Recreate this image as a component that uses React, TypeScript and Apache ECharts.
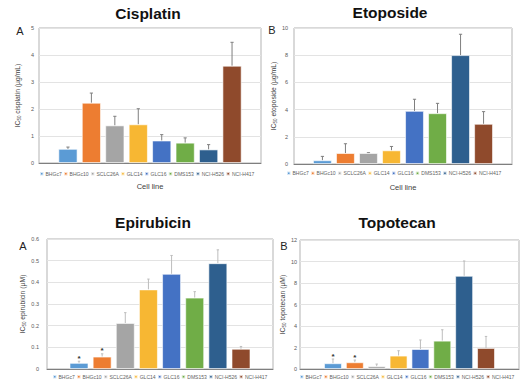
import React, { useEffect, useRef } from 'react';
import * as echarts from 'echarts';

const cellLines = ['BHGc7', 'BHGc10', 'SCLC26A', 'GLC14', 'GLC16', 'DMS153', 'NCI-H526', 'NCI-H417'];
const barColors = ['#5B9BD5', '#ED7D31', '#A5A5A5', '#F7B733', '#4472C4', '#70AD47', '#2E5F8E', '#8F4A2C'];

const cisplatinMean = [0.52, 2.23, 1.39, 1.43, 0.83, 0.75, 0.5, 3.6];
const cisplatinSD = [0.07, 0.36, 0.34, 0.58, 0.22, 0.18, 0.18, 0.87];

const etoposideMean = [0.27, 0.8, 0.8, 1.0, 3.9, 3.73, 8.0, 2.95];
const etoposideSD = [0.29, 0.69, 0.03, 0.29, 0.86, 0.73, 1.54, 0.9];

const epirubicinMean = [0.028, 0.057, 0.212, 0.367, 0.439, 0.329, 0.488, 0.093];
const epirubicinSD = [0.008, 0.013, 0.048, 0.048, 0.085, 0.028, 0.062, 0.011];
const epirubicinStars = ['*', '*', '', '', '', '', '', ''];

const topotecanMean = [0.53, 0.62, 0.25, 1.24, 1.85, 2.63, 8.66, 1.95];
const topotecanSD = [0.4, 0.21, 0.21, 0.46, 0.85, 1.02, 1.39, 1.08];
const topotecanStars = ['*', '*', '', '', '', '', '', ''];

const FONT = "'Liberation Sans', Arial, sans-serif";
const BAR_GAP = 0.23;

type Panel = {
  title: string;
  letter: string;
  drug: string;
  unit: string;
  mean: number[];
  sd: number[];
  stars: string[] | null;
  yMax: number;
  interval: number;
  grid: { left: number; top: number; width: number; height: number };
  titleX: number;
  titleY: number;
  letterX: number;
  letterY: number;
  nameGap: number;
  labelMargin: number;
  catGap: number;
  legendLeft: number;
  legendTop: number;
  xName: string;
  errColor: string;
  cap: number;
};

const panels: Panel[] = [
  {
    title: 'Cisplatin', letter: 'A', drug: 'cisplatin', unit: '(µg/mL)',
    mean: cisplatinMean, sd: cisplatinSD, stars: null, yMax: 5, interval: 1,
    grid: { left: 39, top: 28, width: 222, height: 135 },
    titleX: 148, titleY: 5, letterX: 20, letterY: 31, nameGap: 18, labelMargin: 5,
    catGap: 0.175, legendLeft: 39, legendTop: 171, xName: 'Cell line', errColor: '#7f7f7f', cap: 1.6,
  },
  {
    title: 'Etoposide', letter: 'B', drug: 'etoposide', unit: '(µg/mL)',
    mean: etoposideMean, sd: etoposideSD, stars: null, yMax: 10, interval: 2,
    grid: { left: 294, top: 28, width: 218, height: 136 },
    titleX: 390, titleY: 4, letterX: 272, letterY: 30, nameGap: 15, labelMargin: 6,
    catGap: 0.175, legendLeft: 286, legendTop: 170.5, xName: 'Cell line', errColor: '#7f7f7f', cap: 1.6,
  },
  {
    title: 'Epirubicin', letter: 'A', drug: 'epirubicin', unit: '(µM)',
    mean: epirubicinMean, sd: epirubicinSD, stars: epirubicinStars, yMax: 0.6, interval: 0.1,
    grid: { left: 47, top: 239, width: 226, height: 130 },
    titleX: 153, titleY: 214, letterX: 23, letterY: 246, nameGap: 12, labelMargin: 8,
    catGap: 0.2, legendLeft: 52, legendTop: 374, xName: '', errColor: '#bdbdbd', cap: 1.2,
  },
  {
    title: 'Topotecan', letter: 'B', drug: 'topotecan', unit: '(µM)',
    mean: topotecanMean, sd: topotecanSD, stars: topotecanStars, yMax: 12, interval: 2,
    grid: { left: 300, top: 240, width: 219, height: 129 },
    titleX: 397, titleY: 214, letterX: 284, letterY: 246, nameGap: 8, labelMargin: 3,
    catGap: 0.22, legendLeft: 299, legendTop: 374, xName: '', errColor: '#bdbdbd', cap: 1.2,
  },
];

function buildOption() {
  const series: any[] = [];
  panels.forEach((p, k) => {
    cellLines.forEach((name, i) => {
      series.push({
        type: 'bar',
        name,
        xAxisIndex: k,
        yAxisIndex: k,
        data: [p.mean[i]],
        barGap: BAR_GAP * 100 + '%',
        barCategoryGap: p.catGap * 100 + '%',
        itemStyle: { color: barColors[i], borderColor: 'rgba(255,255,255,0.75)', borderWidth: 0.8 },
        silent: true,
      });
    });
    series.push({
      type: 'custom',
      xAxisIndex: k,
      yAxisIndex: k,
      silent: true,
      encode: { x: 0, y: 1 },
      data: cellLines.map((_, i) => [0, p.mean[i] + p.sd[i], p.mean[i], i]),
      renderItem: (params: any, api: any) => {
        const i = api.value(3);
        const top = api.coord([0, api.value(1)]);
        const base = api.coord([0, api.value(2)]);
        const band = api.size([1, 0])[0];
        const usable = band - band * p.catGap;
        const bw = usable / (8 + 7 * BAR_GAP);
        const x = base[0] - usable / 2 + i * bw * (1 + BAR_GAP) + bw / 2;
        const children: any[] = [
          { type: 'line', shape: { x1: x, y1: base[1], x2: x, y2: top[1] }, style: { stroke: p.errColor, lineWidth: 1 } },
          { type: 'line', shape: { x1: x - p.cap, y1: top[1], x2: x + p.cap, y2: top[1] }, style: { stroke: p.errColor, lineWidth: 1 } },
        ];
        const star = p.stars ? p.stars[i] : '';
        if (star) {
          children.push({
            type: 'text',
            x,
            y: top[1] - 3,
            style: { text: star, fill: '#333', font: `bold 8px ${FONT}`, align: 'center', verticalAlign: 'middle' },
          });
        }
        return { type: 'group', children };
      },
    });
  });

  return {
    animation: false,
    backgroundColor: '#ffffff',
    textStyle: { fontFamily: FONT },
    title: panels.map((p) => ({
      text: p.title,
      left: p.titleX,
      top: p.titleY,
      textAlign: 'center',
      padding: 0,
      textStyle: { fontFamily: FONT, fontWeight: 'bold', fontSize: 15.5, color: '#111' },
    })),
    legend: panels.map((p) => ({
      data: cellLines,
      left: p.legendLeft,
      top: p.legendTop,
      padding: 0,
      icon: 'rect',
      itemWidth: 3.5,
      itemHeight: 3.5,
      itemGap: 1.3,
      selectedMode: false,
      textStyle: { fontFamily: FONT, fontSize: 5.05, color: '#5f5f5f', padding: [0, 0, 0, -3] },
    })),
    grid: panels.map((p) => ({
      ...p.grid,
      show: true,
      borderColor: '#b3b3b3',
      borderWidth: 1,
      backgroundColor: 'transparent',
    })),
    xAxis: panels.map((p, k) => ({
      gridIndex: k,
      type: 'category',
      data: ['cells'],
      axisTick: { show: false },
      axisLabel: { show: false },
      axisLine: { show: true, lineStyle: { color: '#7f7f7f', width: 1 } },
      name: p.xName,
      nameLocation: 'middle',
      nameGap: 19,
      nameTextStyle: { fontFamily: FONT, fontSize: 7.5, color: '#404040' },
    })),
    yAxis: panels.map((p, k) => ({
      gridIndex: k,
      type: 'value',
      min: 0,
      max: p.yMax,
      interval: p.interval,
      axisLine: { show: false },
      axisTick: { show: false },
      splitLine: { lineStyle: { color: '#e3e3e3', width: 1 } },
      axisLabel: { fontFamily: FONT, fontSize: 5.5, color: '#595959', margin: p.labelMargin },
      name: `{a|IC}{s|50}{a| ${p.drug} ${p.unit}}`,
      nameLocation: 'middle',
      nameGap: p.nameGap,
      nameTextStyle: {
        fontFamily: FONT,
        color: '#404040',
        rich: {
          a: { fontFamily: FONT, fontSize: 6.8, color: '#404040', lineHeight: 8, verticalAlign: 'bottom' },
          s: { fontFamily: FONT, fontSize: 4.5, color: '#404040', lineHeight: 8, verticalAlign: 'bottom', padding: [0, 0, -1, 0] },
        },
      },
    })),
    graphic: panels.map((p) => ({
      type: 'text',
      x: p.letterX,
      y: p.letterY,
      style: { text: p.letter, font: `11px ${FONT}`, fill: '#222', align: 'center', verticalAlign: 'middle' },
    })),
    series,
  };
}

export default function App() {
  const ref = useRef<HTMLDivElement>(null);
  useEffect(() => {
    if (!ref.current) return;
    const chart = echarts.init(ref.current, undefined, { renderer: 'svg' });
    chart.setOption(buildOption() as any);
    return () => chart.dispose();
  }, []);
  return <div ref={ref} style={{ position: 'absolute', left: 0, top: 0, width: 525, height: 392 }} />;
}
